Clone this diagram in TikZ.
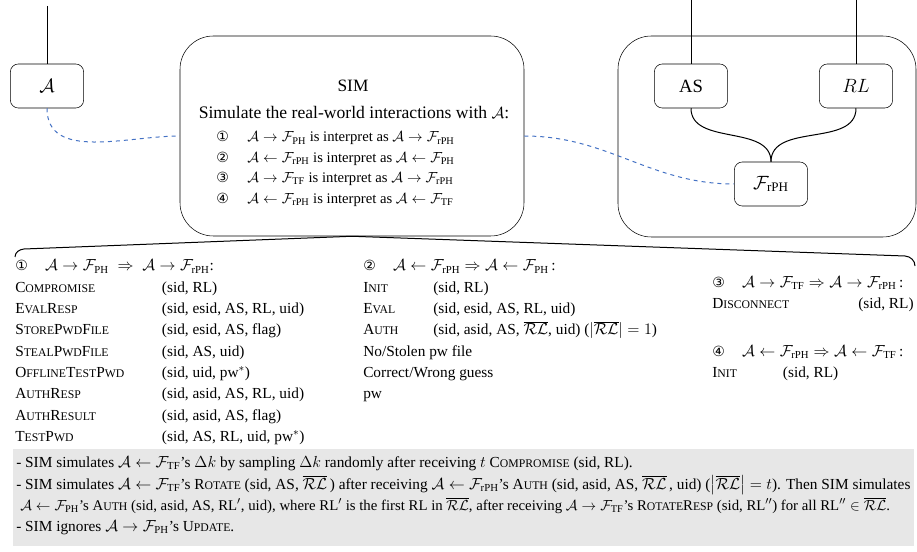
\documentclass[tikz,border=0pt]{standalone}
\usepackage{amsmath,amssymb}
\usepackage{fontspec}
\setmainfont{Liberation Serif}
\newfontfamily\circfont{DejaVu Sans}
\usepackage{xcolor}
\definecolor{linkblue}{RGB}{68,114,196}
\definecolor{notegray}{RGB}{231,231,231}
\newcommand{\smc}[1]{{\fontsize{8.8}{10}\selectfont #1}}
\newcommand{\cnum}[1]{{\circfont\fontsize{10.5}{10}\selectfont #1}}
\newcommand{\Adv}{\mathcal{A}}
\newcommand{\Fn}[1]{\mathcal{F}_{\mathrm{#1}}}
\newcommand{\RLbar}{\overline{\mathcal{RL}}}

\begin{document}
\begin{tikzpicture}[
    x=0.75pt, y=-0.75pt,
    box/.style={draw, rounded corners=6pt, minimum width=55pt, minimum height=33pt, inner sep=0pt, font=\fontsize{14}{16}\selectfont},
    frame/.style={draw, rounded corners=25pt, inner sep=0pt},
    wire/.style={line width=0.75pt},
    link/.style={dashed, linkblue, line width=0.75pt},
    txt/.style={anchor=base west, inner sep=0pt, align=left, font=\fontsize{11.5}{16}\selectfont},
]
\useasboundingbox (0,0) rectangle (917,552);

% Adversary
\node[box] (adv) at (47,86) {$\Adv$};
\coordinate (advtop) at (47,6);
\draw[wire] (advtop) -- (adv.north);

% Simulator
\node[frame, minimum width=258pt, minimum height=150pt] (sim) at (352,136) {};
\node[inner sep=0pt, font=\fontsize{13}{15}\selectfont] (simname) at (353,86) {SIM};
\node[inner sep=0pt, font=\fontsize{13.2}{15}\selectfont] (simdesc) at (354,113) {Simulate the real-world interactions with $\Adv$:};
\node[txt, font=\fontsize{11}{15.3}\selectfont] (simlist) at (216,142) {\begin{tabular}[t]{@{}l@{\hspace{14pt}}l@{}}
\cnum{①} & $\Adv\rightarrow\Fn{PH}$ is interpret as $\Adv\rightarrow\Fn{rPH}$\\
\cnum{②} & $\Adv\leftarrow\Fn{rPH}$ is interpret as $\Adv\leftarrow\Fn{PH}$\\
\cnum{③} & $\Adv\rightarrow\Fn{TF}$ is interpret as $\Adv\rightarrow\Fn{rPH}$\\
\cnum{④} & $\Adv\leftarrow\Fn{rPH}$ is interpret as $\Adv\leftarrow\Fn{TF}$
\end{tabular}};

% Real world
\node[frame, minimum width=223.5pt, minimum height=150.75pt] (real) at (767,136.5) {};
\node[box] (as) at (691,86) {$\mathrm{AS}$};
\node[box] (rl) at (856,86) {$RL$};
\node[box] (frph) at (771,184) {$\Fn{rPH}$};
\coordinate (astop) at (691,0);
\coordinate (rltop) at (856,0);
\draw[wire] (astop) -- (as.north);
\draw[wire] (rltop) -- (rl.north);
\draw[wire] (as.south) to[out=-90, in=90] (frph.north);
\draw[wire] (rl.south) to[out=-90, in=90] (frph.north);

\draw[link] (adv.south) to[out=-90, in=180] (sim.west);
\draw[link] (sim.east) to[out=0, in=180] (frph.west);

% Callout under SIM
\coordinate (cl) at (15,257);
\coordinate (cl2) at (24,249);
\coordinate (cr2) at (905,256);
\coordinate (cr) at (915,266);
\draw[wire] (cl) to[out=90, in=185] (cl2) -- (sim.south) -- (cr2) to[out=-5, in=90] (cr);

% Case 1
\node[txt] (case1) at (15,271) {\begin{tabular}[t]{@{}p{110pt}@{}l@{}}
\multicolumn{2}{@{}l@{}}{\cnum{①}\hspace{13pt}$\Adv\rightarrow\Fn{PH}\;\Rightarrow\;\Adv\rightarrow\Fn{rPH}$:}\\
C\smc{OMPROMISE} & (sid, RL)\\
E\smc{VAL}R\smc{ESP} & (sid, esid, AS, RL, uid)\\
S\smc{TORE}P\smc{WD}F\smc{ILE} & (sid, esid, AS, flag)\\
S\smc{TEAL}P\smc{WD}F\smc{ILE} & (sid, AS, uid)\\
O\smc{FFLINE}T\smc{EST}P\smc{WD} & (sid, uid, pw$^{*}$)\\
A\smc{UTH}R\smc{ESP} & (sid, asid, AS, RL, uid)\\
A\smc{UTH}R\smc{ESULT} & (sid, asid, AS, flag)\\
T\smc{EST}P\smc{WD} & (sid, AS, RL, uid, pw$^{*}$)
\end{tabular}};

% Case 2
\node[txt] (case2) at (363,271) {\begin{tabular}[t]{@{}p{52.5pt}@{}l@{}}
\multicolumn{2}{@{}l@{}}{\cnum{②}\hspace{13pt}$\Adv\leftarrow\Fn{rPH}\Rightarrow\Adv\leftarrow\Fn{PH}$\,:}\\
I\smc{NIT} & (sid, RL)\\
E\smc{VAL} & (sid, esid, AS, RL, uid)\\
A\smc{UTH} & (sid, asid, AS, $\RLbar$, uid) ($|\RLbar|=1$)\\
\multicolumn{2}{@{}l@{}}{No/Stolen pw file}\\
\multicolumn{2}{@{}l@{}}{Correct/Wrong guess}\\
\multicolumn{2}{@{}l@{}}{pw}
\end{tabular}};

% Case 3
\node[txt] (case3) at (712,287) {\begin{tabular}[t]{@{}p{109.5pt}@{}l@{}}
\multicolumn{2}{@{}l@{}}{\cnum{③}\hspace{13pt}$\Adv\rightarrow\Fn{TF}\Rightarrow\Adv\rightarrow\Fn{rPH}$\,:}\\
D\smc{ISCONNECT} & (sid, RL)
\end{tabular}};

% Case 4
\node[txt] (case4) at (712,356) {\begin{tabular}[t]{@{}p{53pt}@{}l@{}}
\multicolumn{2}{@{}l@{}}{\cnum{④}\hspace{13pt}$\Adv\leftarrow\Fn{rPH}\Rightarrow\Adv\leftarrow\Fn{TF}$\,:}\\
I\smc{NIT} & (sid, RL)
\end{tabular}};

% Notes
\node[fill=notegray, minimum width=675.75pt, minimum height=72.75pt, inner sep=0pt] (notes) at (463.5,497.5) {};
\node[txt] (note1) at (16,467) {- SIM simulates $\Adv\leftarrow\Fn{TF}$'s $\Delta k$ by sampling $\Delta k$ randomly after receiving $t$ C\smc{OMPROMISE} (sid, RL).};
\node[txt] (note2) at (16,489) {- SIM simulates $\Adv\leftarrow\Fn{TF}$'s R\smc{OTATE} (sid, AS, $\RLbar$\,) after receiving $\Adv\leftarrow\Fn{rPH}$'s A\smc{UTH} (sid, asid, AS, $\RLbar$\,, uid) ($\bigl|\RLbar\bigr|=t$). Then SIM simulates};
\node[txt, font=\fontsize{11.1}{16}\selectfont] (note3) at (20,510) {$\Adv\leftarrow\Fn{PH}$'s A\smc{UTH} (sid, asid, AS, RL$'$, uid), where RL$'$ is the first RL in $\RLbar$, after receiving $\Adv\rightarrow\Fn{TF}$'s R\smc{OTATE}R\smc{ESP} (sid, RL$''$) for all RL$''\in\RLbar$.};
\node[txt] (note4) at (16,531) {- SIM ignores $\Adv\rightarrow\Fn{PH}$'s U\smc{PDATE}.};
\end{tikzpicture}
\end{document}
